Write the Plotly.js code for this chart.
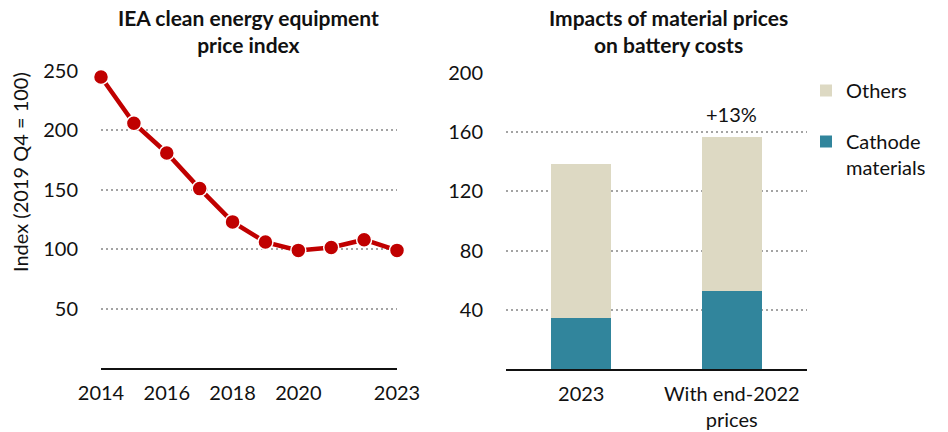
<!DOCTYPE html>
<html><head><meta charset="utf-8">
<script src="https://cdn.plot.ly/plotly-3.0.1.min.js"></script>
<style>html,body{margin:0;padding:0;background:#fff}</style>
</head><body><div id="chart" style="width:948px;height:432px"></div>
<script>
const years = [2014,2015,2016,2017,2018,2019,2020,2021,2022,2023];
const priceIndex = [245,206,181,151,123,106,99,101.5,108,99];
const yearTicks = [2014,2016,2018,2020,2023];
const leftYTicks = [50,100,150,200,250];

const barCats = ['2023','With end-2022<br>prices'];
const cathode = [34.2,52.6];
const others = [104.3,104.4];
const rightYTicks = [40,80,120,160,200];
const changeLabel = '+13%';

const W = 948, H = 432;
const FONT = 'Lato, "Open Sans", sans-serif';
const px = v => v / W, py = v => 1 - v / H;

const traces = [
  {x: years, y: priceIndex, type:'scatter', mode:'lines+markers', xaxis:'x', yaxis:'y',
   line:{color:'#C00000', width:4.5}, marker:{color:'#C00000', size:15, line:{color:'#fff', width:1.5}},
   showlegend:false, cliponaxis:false, hoverinfo:'skip'},
  {x: barCats, y: cathode, type:'bar', name:'Cathode<br>materials', xaxis:'x2', yaxis:'y2',
   marker:{color:'#31859C'}, legend:'legend2'},
  {x: barCats, y: others, type:'bar', name:'Others', xaxis:'x2', yaxis:'y2',
   marker:{color:'#DDD9C3'}, legend:'legend'}
];
const total2 = cathode[1] + others[1];
const tickfont = {family: FONT, size: 20, color:'#111'};
const grid = {showgrid:true, gridcolor:'#a3a3a3', griddash:'2px,3px', gridwidth:2, zeroline:false};
const layout = {
  width: W, height: H, margin:{l:0,r:0,t:0,b:0},
  paper_bgcolor:'#fff', plot_bgcolor:'rgba(0,0,0,0)',
  font:{family: FONT, color:'#111'},
  barmode:'stack', bargap:0.6,
  xaxis:{domain:[px(101),px(397)], range:[2014,2023], tickvals:yearTicks, ticktext:yearTicks.map(String),
    showgrid:false, zeroline:false, showline:true, linecolor:'#111', linewidth:1.5,
    ticks:'outside', ticklen:6, tickcolor:'rgba(0,0,0,0)', tickfont: tickfont},
  yaxis:Object.assign({domain:[py(368),py(71)], range:[0,250], tickvals:leftYTicks,
    ticks:'outside', ticklen:18, tickcolor:'rgba(0,0,0,0)', tickfont: tickfont}, grid),
  xaxis2:{domain:[px(506),px(807)], anchor:'y2', type:'category', showgrid:false, zeroline:false, showline:true,
    linecolor:'#111', linewidth:1.5, ticks:'outside', ticklen:6, tickcolor:'rgba(0,0,0,0)', tickfont: tickfont},
  yaxis2:Object.assign({domain:[py(369),py(73)], range:[0,200], anchor:'x2', tickvals:rightYTicks,
    ticks:'outside', ticklen:18, tickcolor:'rgba(0,0,0,0)', tickfont: tickfont}, grid),
  legend:{x:px(806), y:py(71), xanchor:'left', yanchor:'top', font:{family:FONT, size:20, color:'#111'},
    bgcolor:'rgba(0,0,0,0)', itemclick:false},
  legend2:{x:px(806), y:py(122), xanchor:'left', yanchor:'top', font:{family:FONT, size:20, color:'#111'},
    bgcolor:'rgba(0,0,0,0)', itemclick:false, valign:'top'},
  annotations:[
    {xref:'paper', yref:'paper', x:px(248), y:py(31), xanchor:'center', yanchor:'middle',
     text:'<b>IEA clean energy equipment<br>price index</b>',
     showarrow:false, font:{family:FONT, size:21, color:'#111'}, align:'center'},
    {xref:'paper', yref:'paper', x:px(668), y:py(31), xanchor:'center', yanchor:'middle',
     text:'<b>Impacts of material prices<br>on battery costs</b>',
     showarrow:false, font:{family:FONT, size:21, color:'#111'}, align:'center'},
    {xref:'paper', yref:'paper', x:px(20), y:py(172), xanchor:'center', yanchor:'middle', textangle:-90,
     text:'Index (2019 Q4 = 100)', showarrow:false, font:{family:FONT, size:20, color:'#111'}},
    {xref:'x2', yref:'y2', x:barCats[1], y:total2, xanchor:'center', yanchor:'bottom', yshift:9, text:changeLabel,
     showarrow:false, font:{family:FONT, size:20, color:'#111'}}
  ]
};
Plotly.newPlot('chart', traces, layout, {displayModeBar:false, staticPlot:true});
</script></body></html>
